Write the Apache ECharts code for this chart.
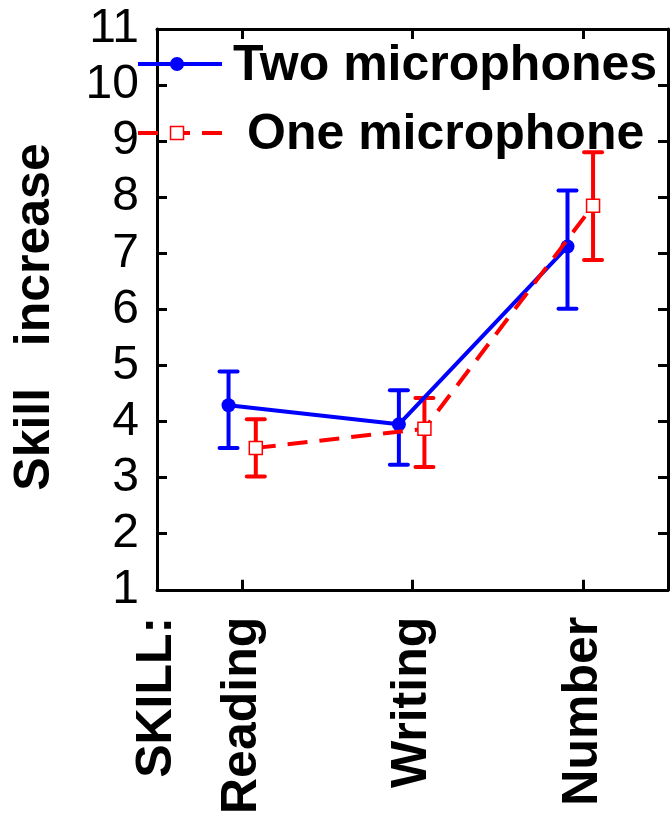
<!DOCTYPE html>
<html>
<head>
<meta charset="utf-8">
<script src="https://cdn.jsdelivr.net/npm/echarts@6/dist/echarts.min.js"></script>
<style>
html,body{margin:0;padding:0;background:#fff;}
#chart{width:671px;height:817px;}
</style>
</head>
<body>
<div id="chart"></div>
<script>
// ---- data ----
const categories = ['SKILL:', 'Reading', 'Writing', 'Number'];
const categoryPos = [0.5, 1, 2, 3];
const xTickPos = [1, 2, 3];
const yTicks = [1, 2, 3, 4, 5, 6, 7, 8, 9, 10, 11];

const twoMicX = [0.92, 1.92, 2.91];
const twoMicMean = [4.29, 3.95, 7.12];
const twoMicLow = [3.53, 3.23, 6.01];
const twoMicHigh = [4.89, 4.56, 8.12];

const oneMicX = [1.08, 2.07, 3.06];
const oneMicMean = [3.53, 3.87, 7.85];
const oneMicLow = [3.02, 3.19, 6.88];
const oneMicHigh = [4.04, 4.42, 8.80];

const seriesNames = ['Two microphones', 'One microphone'];
const yTitle = 'Skill   increase';

// ---- style ----
const BLUE = '#0000ff', RED = '#ff0000';
const FONT = '"Liberation Sans", Arial, sans-serif';

function errorBars(color) {
  return function (params, api) {
    const x = api.value(0), lo = api.value(1), hi = api.value(2);
    const pLo = api.coord([x, lo]), pHi = api.coord([x, hi]);
    const hw = 9;
    const st = { stroke: color, lineWidth: 4 };
    return {
      type: 'group',
      children: [
        { type: 'line', shape: { x1: pLo[0], y1: pLo[1], x2: pHi[0], y2: pHi[1] }, style: st },
        { type: 'line', shape: { x1: pLo[0] - hw, y1: pLo[1], x2: pLo[0] + hw, y2: pLo[1] }, style: Object.assign({ lineCap: 'round' }, st) },
        { type: 'line', shape: { x1: pHi[0] - hw, y1: pHi[1], x2: pHi[0] + hw, y2: pHi[1] }, style: Object.assign({ lineCap: 'round' }, st) }
      ]
    };
  };
}

const zip = (a, b) => a.map((v, i) => [v, b[i]]);
const zip3 = (a, b, c) => a.map((v, i) => [v, b[i], c[i]]);

const axisLineStyle = { color: '#000', width: 3 };

const option = {
  animation: false,
  backgroundColor: '#fff',
  grid: { left: 157, right: 3, top: 29, bottom: 223, containLabel: false },
  xAxis: [
    {
      type: 'value', min: 0.5, max: 3.5, position: 'bottom',
      splitLine: { show: false },
      axisLine: { show: true, lineStyle: axisLineStyle },
      axisTick: { show: true, inside: true, length: 10, lineStyle: axisLineStyle, customValues: xTickPos },
      axisLabel: {
        show: true, rotate: 90, margin: 27,
        customValues: categoryPos,
        formatter: function (v) {
          const i = categoryPos.indexOf(v);
          return i >= 0 ? categories[i] : '';
        },
        color: '#000', fontFamily: FONT, fontWeight: 'bold', fontSize: 50
      }
    },
    {
      type: 'value', min: 0.5, max: 3.5, position: 'top',
      splitLine: { show: false },
      axisLine: { show: true, lineStyle: axisLineStyle },
      axisTick: { show: true, inside: true, length: 10, lineStyle: axisLineStyle, customValues: xTickPos },
      axisLabel: { show: false }
    }
  ],
  yAxis: [
    {
      type: 'value', min: 1, max: 11, interval: 1, position: 'left',
      splitLine: { show: false },
      axisLine: { show: true, lineStyle: axisLineStyle },
      axisTick: { show: true, inside: true, length: 10, lineStyle: axisLineStyle },
      axisLabel: {
        margin: 18, color: '#000', fontFamily: FONT, fontSize: 48,
        customValues: yTicks
      }
    },
    {
      type: 'value', min: 1, max: 11, interval: 1, position: 'right',
      splitLine: { show: false },
      axisLine: { show: true, lineStyle: axisLineStyle },
      axisTick: { show: true, inside: true, length: 10, lineStyle: axisLineStyle },
      axisLabel: { show: false }
    }
  ],
  series: [
    {
      name: seriesNames[0] + ' error', type: 'custom', z: 2,
      renderItem: errorBars(BLUE), data: zip3(twoMicX, twoMicLow, twoMicHigh),
      encode: { x: 0, y: [1, 2] }
    },
    {
      name: seriesNames[1] + ' error', type: 'custom', z: 2,
      renderItem: errorBars(RED), data: zip3(oneMicX, oneMicLow, oneMicHigh),
      encode: { x: 0, y: [1, 2] }
    },
    {
      name: seriesNames[0], type: 'line', z: 3,
      data: zip(twoMicX, twoMicMean),
      symbol: 'circle', symbolSize: 14,
      lineStyle: { color: BLUE, width: 4 },
      itemStyle: { color: BLUE }
    },
    {
      name: seriesNames[1], type: 'line', z: 4,
      data: zip(oneMicX, oneMicMean),
      symbol: 'rect', symbolSize: 13, showAllSymbol: true,
      lineStyle: { color: RED, width: 4, type: [20, 12] },
      itemStyle: { color: '#fff', borderColor: RED, borderWidth: 1.5 }
    }
  ],
  graphic: [
    // y-axis title
    {
      type: 'text', x: 35, y: 317, rotation: Math.PI / 2,
      style: { text: yTitle, font: 'bold 50px ' + FONT, fill: '#000', align: 'center', verticalAlign: 'middle' }
    },
    // legend: two microphones
    { type: 'line', shape: { x1: 138, y1: 64, x2: 222, y2: 64 }, style: { stroke: BLUE, lineWidth: 4 }, z: 10 },
    { type: 'circle', shape: { cx: 177, cy: 64, r: 7 }, style: { fill: BLUE }, z: 11 },
    {
      type: 'text', x: 233, y: 66, z: 10,
      style: { text: seriesNames[0], font: 'bold 50px ' + FONT, fill: '#000', align: 'left', verticalAlign: 'middle' }
    },
    // legend: one microphone
    { type: 'line', shape: { x1: 138, y1: 133, x2: 222, y2: 133 }, style: { stroke: RED, lineWidth: 4, lineDash: [20, 12] }, z: 10 },
    { type: 'rect', shape: { x: 170.5, y: 126.5, width: 13, height: 13 }, style: { fill: '#fff', stroke: RED, lineWidth: 1.5 }, z: 11 },
    {
      type: 'text', x: 247, y: 135, z: 10,
      style: { text: seriesNames[1], font: 'bold 50px ' + FONT, fill: '#000', align: 'left', verticalAlign: 'middle' }
    }
  ]
};

const chart = echarts.init(document.getElementById('chart'), null, { renderer: 'canvas' });
chart.setOption(option);
</script>
</body>
</html>
